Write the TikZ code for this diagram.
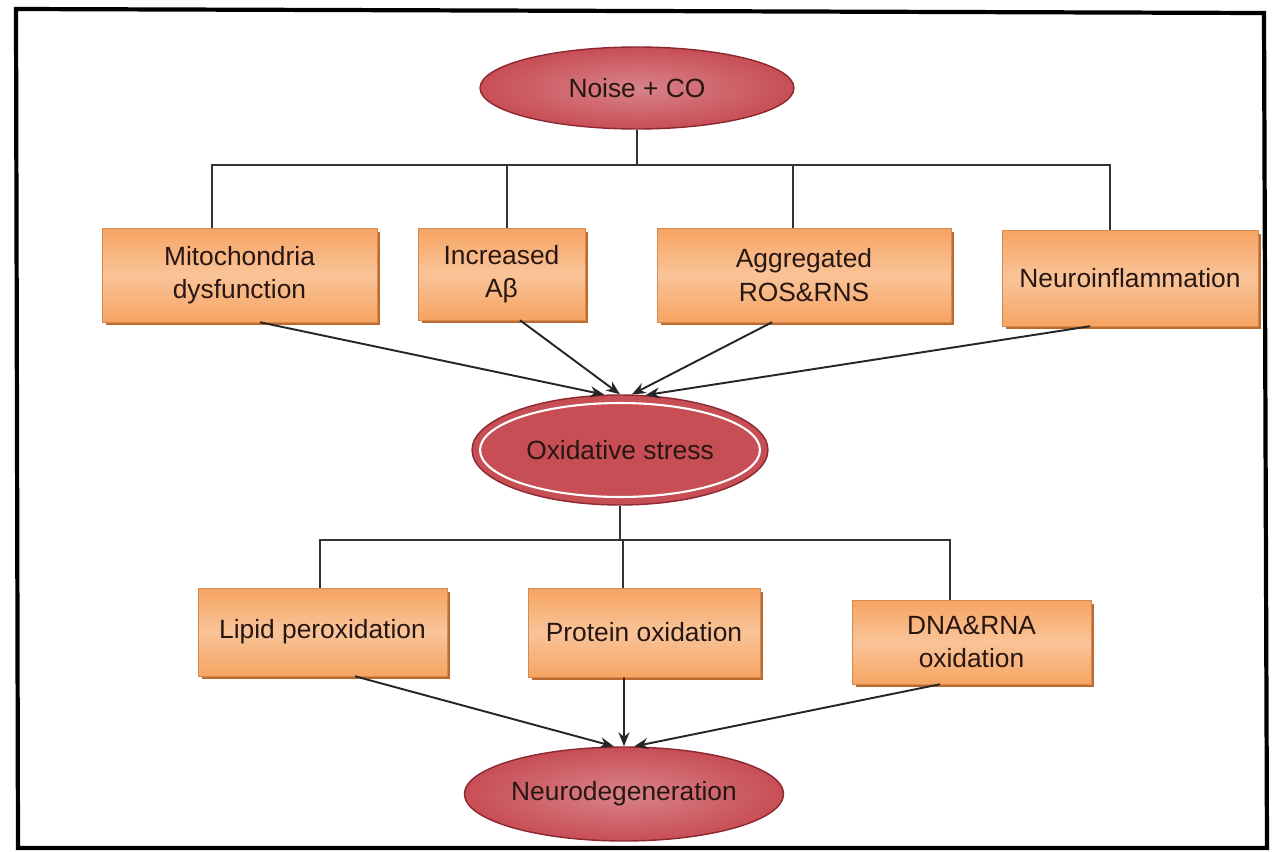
\documentclass[tikz,border=0pt]{standalone}
\usepackage{fontspec}
\setmainfont{Liberation Sans}
\usetikzlibrary{arrows.meta, shapes.geometric, positioning, shadows}
\definecolor{ovalred}{RGB}{200,78,86}
\definecolor{ovaledge}{RGB}{140,40,48}
\definecolor{boxorange}{RGB}{246,164,98}
\definecolor{boxshade}{RGB}{190,105,45}
\definecolor{inktext}{RGB}{40,22,18}

\begin{document}
\begin{tikzpicture}[x=0.02cm, y=-0.02cm,
    every node/.style={font=\fontsize{15}{19}\selectfont, text=inktext},
    box/.style={draw=boxorange!85!black, line width=0.3pt, top color=boxorange,
                bottom color=boxorange, middle color=boxorange!65!white,
                align=center, inner sep=0pt,
                drop shadow={shadow xshift=0.07cm, shadow yshift=-0.07cm,
                             fill=boxshade, opacity=1}},
    oval/.style={ellipse, draw=ovaledge, line width=0.8pt, inner sep=0pt,
                 inner color=ovalred!70!white, outer color=ovalred},
    link/.style={draw=black!80, line width=0.8pt},
    arr/.style={-{Stealth[length=0.28cm, width=0.22cm]}, black!85, line width=1.1pt}]
  \useasboundingbox (0,0) rectangle (1276,852);
  % frame
  \draw[line width=2.4pt] (16,9) -- (1264,13) -- (1267,848) -- (18,848) -- cycle;

  % top level
  \node[oval, minimum width=6.28cm, minimum height=1.64cm] (noise) at (637,88) {Noise + CO};

  \node[box, minimum width=5.5cm,  minimum height=1.88cm] (mito)  at (239.5,275) {Mitochondria\\dysfunction};
  \node[box, minimum width=3.34cm, minimum height=1.84cm] (abeta) at (501.5,274) {Increased\\Aβ};
  \node[box, minimum width=5.88cm, minimum height=1.88cm] (ros)   at (804,275)   {Aggregated\\ROS\&RNS};
  \node[box, minimum width=5.12cm, minimum height=1.92cm] (neuro) at (1130,278)  {Neuroinflammation};

  \node[ellipse, draw=ovaledge, line width=0.8pt, fill=ovalred, inner sep=0pt,
        minimum width=5.92cm, minimum height=2.2cm] (ox) at (620,450) {Oxidative stress};
  \draw[white, line width=1.2pt] (ox.center) ellipse [x radius=2.8cm, y radius=0.94cm];

  \node[box, minimum width=4.98cm, minimum height=1.76cm] (lipid)   at (322.5,632) {Lipid peroxidation};
  \node[box, minimum width=4.64cm, minimum height=1.78cm] (protein) at (644,632.5) {Protein oxidation};
  \node[box, minimum width=4.78cm, minimum height=1.68cm] (dna)     at (971.5,642) {DNA\&RNA\\oxidation};

  \node[oval, minimum width=6.36cm, minimum height=1.88cm] (neurodeg) at (624,794) {Neurodegeneration};

  % branching lines
  \coordinate (topbus) at (637,165);
  \coordinate (lowbus) at (620,540);
  \draw[link] (noise) -- (topbus);
  \draw[link] (topbus) -| ([xshift=-0.55cm]mito.north);
  \draw[link] (topbus) -| ([xshift=0.11cm]abeta.north);
  \draw[link] (topbus) -| ([xshift=-0.22cm]ros.north);
  \draw[link] (topbus) -| ([xshift=-0.4cm]neuro.north);

  \draw[link] (ox.south) -- (lowbus);
  \draw[link] (lowbus) -| ([xshift=-0.05cm]lipid.north);
  \draw[link] (lowbus) -| ([xshift=-0.42cm]protein.north);
  \draw[link] (lowbus) -| ([xshift=-0.43cm]dna.north);

  % converging arrows
  \draw[arr] ([xshift=0.41cm]mito.south)   -- (ox.106);
  \draw[arr] ([xshift=0.37cm]abeta.south)  -- (ox.90);
  \draw[arr] ([xshift=-0.64cm]ros.south)   -- (ox.78);
  \draw[arr] ([xshift=-0.8cm]neuro.south)  -- (ox.65);

  \draw[arr] ([xshift=0.65cm]lipid.south)    -- (neurodeg.102);
  \draw[arr] ([xshift=-0.4cm]protein.south)  -- (neurodeg.90);
  \draw[arr] ([xshift=-0.63cm]dna.south)     -- (neurodeg.78);
\end{tikzpicture}
\end{document}
